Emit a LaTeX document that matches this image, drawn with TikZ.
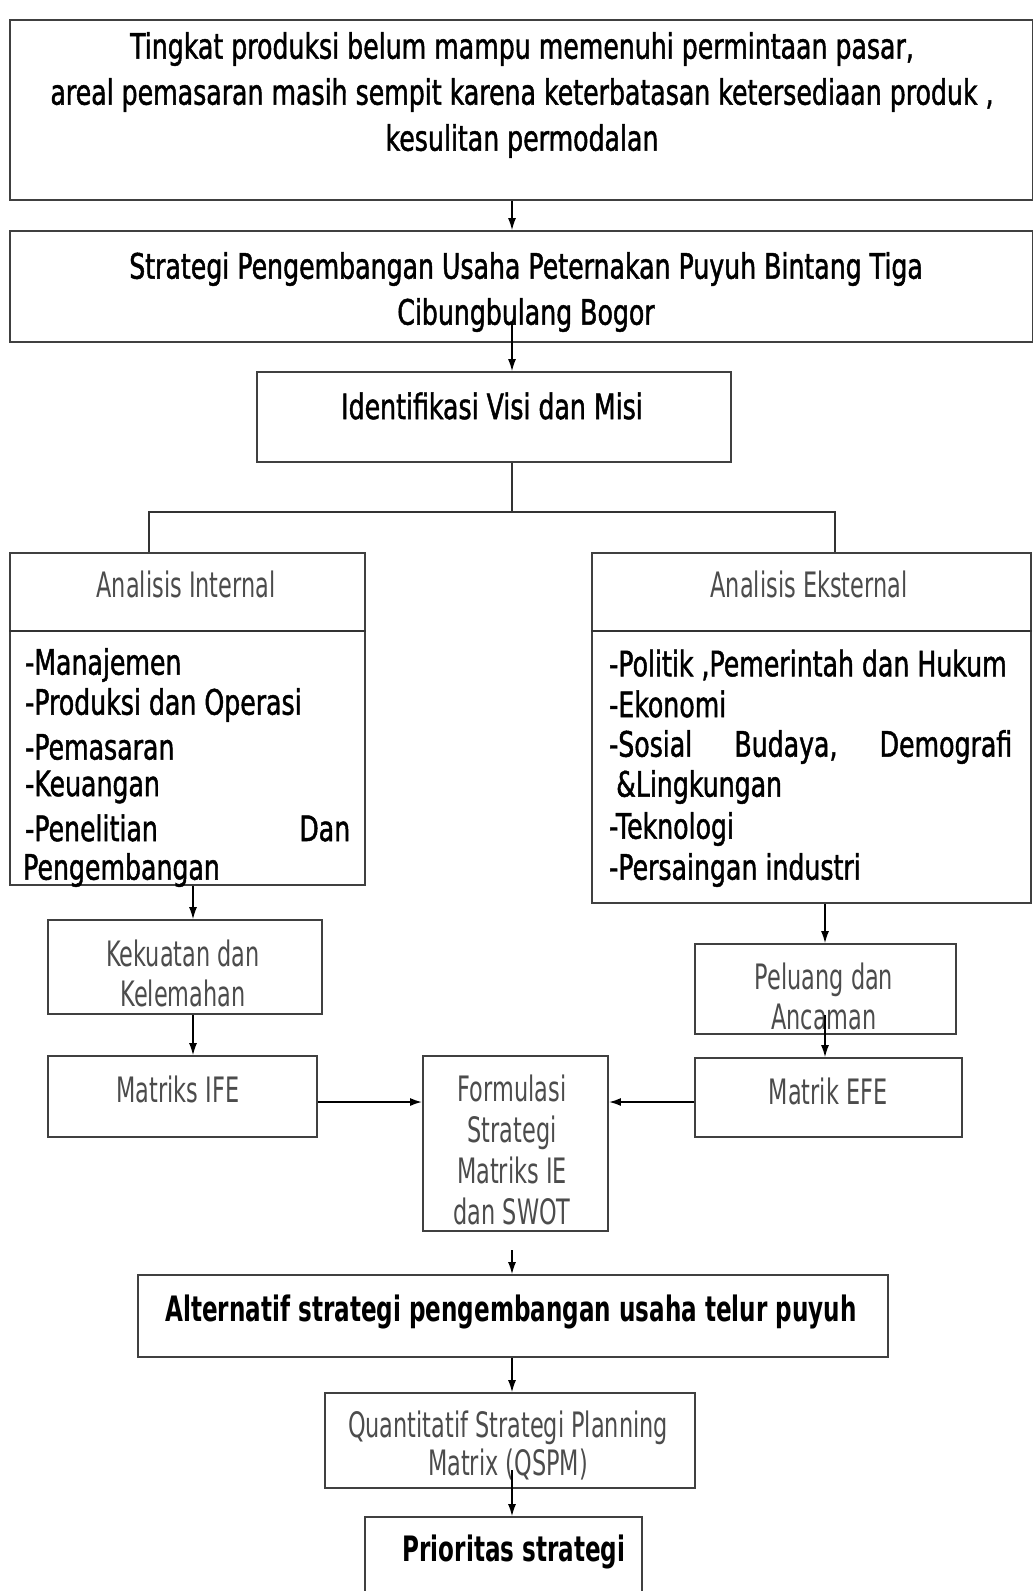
\documentclass[tikz,border=0pt]{standalone}
\usepackage{fontspec}
\setmainfont{DejaVu Sans}[FakeStretch=0.72, FakeBold=1.3]
\newfontfamily\thinf{DejaVu Sans}[FakeStretch=0.64]
\newfontfamily\boldf{DejaVu Sans Bold}[FakeStretch=0.66]
\usetikzlibrary{arrows.meta}
\begin{document}
\begin{tikzpicture}[x=1pt,y=-1pt,
  box/.style={draw=black!75, line width=1.8pt, minimum width=#1},
  box/.default=10pt,
  arr/.style={draw=black, line width=1.3pt, -{Latex[length=12pt,width=8pt]}},
  ln/.style={draw=black!80, line width=1.6pt},
  maintxt/.style={font=\fontsize{35}{46}\selectfont, align=center, inner sep=0pt},
  thintxt/.style={font=\thinf\fontsize{35}{40}\selectfont, text=black!70, align=center, inner sep=0pt},
  listtxt/.style={font=\fontsize{35}{41}\selectfont, anchor=west, inner sep=0pt},
  boldtxt/.style={font=\boldf\fontsize{35}{40}\selectfont, align=center, inner sep=0pt},
  ]
\useasboundingbox (0,0) rectangle (1033,1591);
\fill[white] (0,0) rectangle (1033,1591);
% boxes
\node[box=1023pt, minimum height=180pt] (top) at (521.5,110) {};
\node[box=1023pt, minimum height=111pt] (b2) at (521.5,286.5) {};
\node[box=474pt, minimum height=90pt] (ident) at (494,417) {};
\node[box=355pt, minimum height=332pt] (internal) at (187.5,719) {};
\node[box=439pt, minimum height=350pt] (eksternal) at (811.5,728) {};
\node[box=274pt, minimum height=94pt] (kek) at (185,967) {};
\node[box=269pt, minimum height=81pt] (ife) at (182.5,1096.5) {};
\node[box=261pt, minimum height=90pt] (pel) at (825.5,989) {};
\node[box=267pt, minimum height=79pt] (efe) at (828.5,1097.5) {};
\node[box=185pt, minimum height=175pt] (form) at (515.5,1143.5) {};
\node[box=750pt, minimum height=82pt] (alt) at (513,1316) {};
\node[box=370pt, minimum height=95pt] (qspm) at (510,1440.5) {};
\node[box=277pt, minimum height=83pt] (prio) at (503.5,1558.5) {};
% dividers
\coordinate (dv) at (0,631);
\draw[ln] (internal.west |- dv) -- (internal.east |- dv);
\draw[ln] (eksternal.west |- dv) -- (eksternal.east |- dv);
% texts
\node[maintxt] (t1) at (522,95) {Tingkat produksi belum mampu memenuhi permintaan pasar,\\areal pemasaran masih sempit karena keterbatasan ketersediaan produk ,\\kesulitan permodalan};
\node[maintxt] (t2) at (526,292) {Strategi Pengembangan Usaha Peternakan Puyuh Bintang Tiga\\Cibungbulang Bogor};
\node[maintxt] (t3) at (492,406) {Identifikasi Visi dan Misi};
\node[thintxt] (h1) at (186,584) {Analisis Internal};
\node[thintxt] (h2) at (809,584) {Analisis Eksternal};
\node[listtxt] (i1) at (25,665) {-Manajemen};
\node[listtxt] (i2) at (25,705) {-Produksi dan Operasi};
\node[listtxt] (i3) at (25,747) {-Pemasaran};
\node[listtxt] (i4) at (25,787) {-Keuangan};
\node[listtxt] (i5) at (25,828) {\hbox to 325pt{-Penelitian\hfill Dan}};
\node[listtxt] (i6) at (23,870) {Pengembangan};
\node[listtxt] (e1) at (609,665) {-Politik ,Pemerintah dan Hukum};
\node[listtxt] (e2) at (609,704) {-Ekonomi};
\node[listtxt] (e3) at (609,747) {\hbox to 403pt{-Sosial\hfill Budaya,\hfill Demografi}};
\node[listtxt] (e4) at (616,787) {\&Lingkungan};
\node[listtxt] (e5) at (609,829) {-Teknologi};
\node[listtxt] (e6) at (609,870) {-Persaingan industri};
\node[thintxt] (k1) at (183,973) {Kekuatan dan\\Kelemahan};
\node[thintxt] (m1) at (178,1089) {Matriks IFE};
\node[thintxt] (p1) at (824,996) {Peluang dan\\Ancaman};
\node[thintxt] (m2) at (828,1091) {Matrik EFE};
\node[thintxt, font=\thinf\fontsize{35}{41}\selectfont] (f1) at (512,1150) {Formulasi\\Strategi\\Matriks IE\\dan SWOT};
\node[boldtxt] (a1) at (511,1312) {Alternatif strategi pengembangan usaha telur puyuh};
\node[thintxt, font=\thinf\fontsize{35}{38}\selectfont] (q1) at (508,1445) {Quantitatif Strategi Planning\\Matrix (QSPM)};
\node[boldtxt] (pr) at (514,1552) {Prioritas strategi};
% connectors
\coordinate (cx) at (512,0);
\coordinate (lx) at (193,0);
\coordinate (rx) at (825,0);
\coordinate (hy) at (0,1102);
\coordinate (a2) at (512,322);
\coordinate (bl) at (149,512);
\coordinate (br) at (835,512);
\coordinate (a7) at (825,1015);
\coordinate (a10) at (512,1250);
\coordinate (a12) at (512,1470);
\draw[arr] (cx |- top.south) -- (cx |- b2.north);
\draw[arr] (a2) -- (cx |- ident.north);
\draw[ln, line width=1.3pt] (cx |- ident.south) -- (cx |- bl);
\draw[ln, line width=1.3pt] (bl |- internal.north) -- (bl) -- (br) -- (br |- eksternal.north);
\draw[arr] (lx |- internal.south) -- (lx |- kek.north);
\draw[arr] (lx |- kek.south) -- (lx |- ife.north);
\draw[arr] (rx |- eksternal.south) -- (rx |- pel.north);
\draw[arr] (a7) -- (rx |- efe.north);
\draw[arr, line width=1.8pt] (ife.east |- hy) -- (form.west |- hy);
\draw[arr, line width=1.8pt] (efe.west |- hy) -- (form.east |- hy);
\draw[arr] (a10) -- (cx |- alt.north);
\draw[arr] (cx |- alt.south) -- (cx |- qspm.north);
\draw[arr] (a12) -- (cx |- prio.north);
\end{tikzpicture}
\end{document}
